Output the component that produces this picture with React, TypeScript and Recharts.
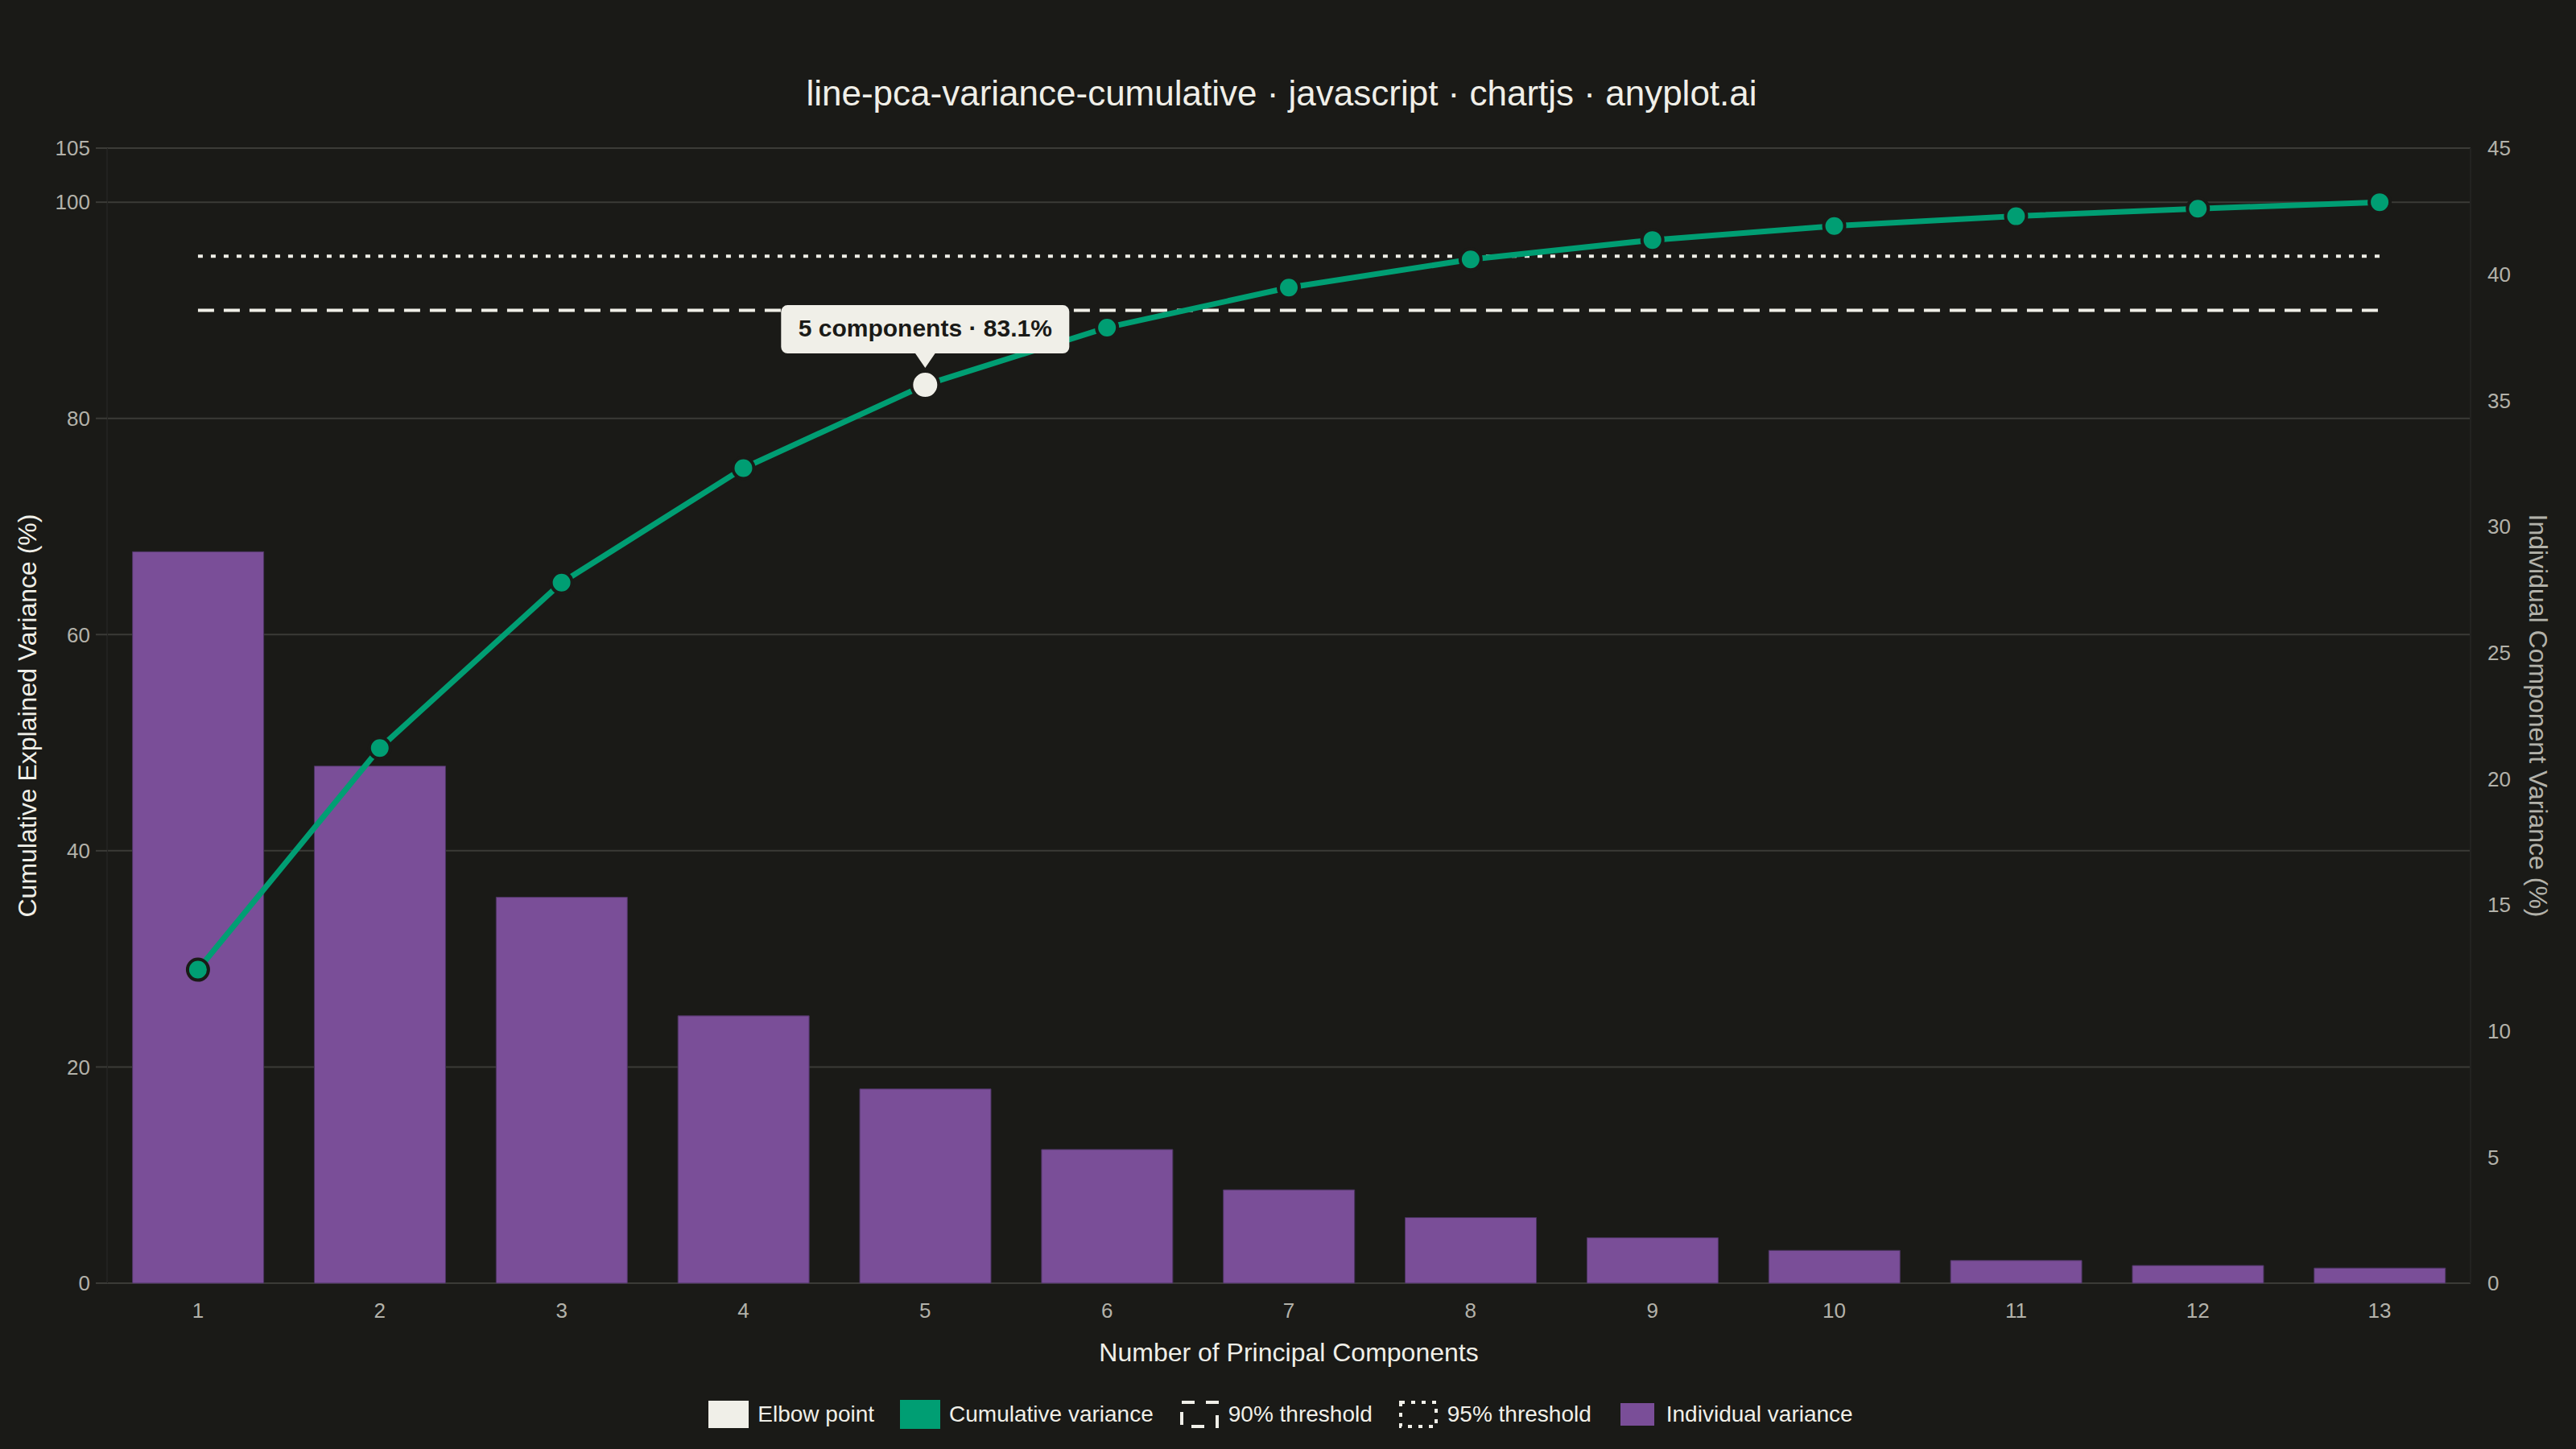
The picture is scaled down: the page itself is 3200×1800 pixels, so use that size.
import React from 'react';
import { ComposedChart, Bar, Line, XAxis, YAxis, CartesianGrid, Legend } from 'recharts';

const COMPONENTS = ['1', '2', '3', '4', '5', '6', '7', '8', '9', '10', '11', '12', '13'];
const INDIVIDUAL = [29.0, 20.5, 15.3, 10.6, 7.7, 5.3, 3.7, 2.6, 1.8, 1.3, 0.9, 0.7, 0.6];
const CUMULATIVE = [29.0, 49.5, 64.8, 75.4, 83.1, 88.4, 92.1, 94.7, 96.5, 97.8, 98.7, 99.4, 100.0];
const THRESHOLD_90 = 90;
const THRESHOLD_95 = 95;
const ELBOW_COMPONENT = '5';
const LEFT_TICKS = [0, 20, 40, 60, 80, 100, 105];
const RIGHT_TICKS = [0, 5, 10, 15, 20, 25, 30, 35, 40, 45];

const BG = '#1a1a17';
const INK = '#f0efe8';
const MUTED = '#b3b2aa';
const GRID = '#3b3b37';
const GREEN = '#009e73';
const PURPLE = '#7a4e98';
const FONT = '"Liberation Sans", Arial, Helvetica, sans-serif';

if (typeof document !== 'undefined') {
  document.body.style.margin = '0';
  document.body.style.background = BG;
}

const data = COMPONENTS.map((pc, i) => ({
  pc,
  individual: INDIVIDUAL[i],
  cumulative: CUMULATIVE[i],
  thr90: THRESHOLD_90,
  thr95: THRESHOLD_95,
  elbow: pc === ELBOW_COMPONENT ? CUMULATIVE[i] : null,
}));

const ElbowDot = (props: any) => {
  const { cx, cy, payload, index } = props;
  if (payload == null || payload.elbow == null || cx == null || cy == null) {
    return <g key={`e-${index}`} />;
  }
  const label = `${payload.pc} components · ${payload.elbow.toFixed(1)}%`;
  const w = 358;
  const h = 60;
  const boxBottom = cy - 39;
  return (
    <g key={`e-${index}`}>
      <circle cx={cx} cy={cy} r={17} fill={INK} stroke={BG} strokeWidth={4} />
      <rect x={cx - w / 2} y={boxBottom - h} width={w} height={h} rx={8} ry={8} fill={INK} />
      <path d={`M${cx - 13},${boxBottom - 1} L${cx + 13},${boxBottom - 1} L${cx},${cy - 21} Z`} fill={INK} />
      <text
        x={cx}
        y={boxBottom - h / 2 - 2}
        textAnchor="middle"
        dominantBaseline="central"
        fontSize={30}
        fontWeight="bold"
        fontFamily={FONT}
        fill={BG}
      >
        {label}
      </text>
    </g>
  );
};

const LegendItem = ({ swatch, text }: { swatch: React.ReactNode; text: string }) => (
  <div style={{ display: 'flex', alignItems: 'center' }}>
    <svg width={50} height={36} style={{ display: 'block' }}>
      {swatch}
    </svg>
    <span style={{ marginLeft: 11 }}>{text}</span>
  </div>
);

const LegendContent = () => (
  <div
    style={{
      position: 'relative',
      left: -9,
      display: 'flex',
      justifyContent: 'center',
      alignItems: 'center',
      height: 50,
      gap: 32,
      fontFamily: FONT,
      fontSize: 28,
      color: INK,
    }}
  >
    <LegendItem swatch={<rect x={0} y={1} width={50} height={34} fill={INK} />} text="Elbow point" />
    <LegendItem swatch={<rect x={0} y={0} width={50} height={36} fill={GREEN} />} text="Cumulative variance" />
    <LegendItem
      swatch={<rect x={3} y={3} width={44} height={30} fill="none" stroke={INK} strokeWidth={4} strokeDasharray="16 14" />}
      text="90% threshold"
    />
    <LegendItem
      swatch={<rect x={3} y={3} width={44} height={30} fill="none" stroke={INK} strokeWidth={4} strokeDasharray="5 8" />}
      text="95% threshold"
    />
    <LegendItem swatch={<rect x={4} y={4} width={42} height={28} fill={PURPLE} />} text="Individual variance" />
  </div>
);

export default function App() {
  return (
    <div style={{ position: 'relative', width: 3200, height: 1800, background: BG, fontFamily: FONT }}>
      <div
        style={{
          position: 'absolute',
          top: 91,
          left: -8,
          width: 3200,
          textAlign: 'center',
          fontSize: 44,
          lineHeight: '50px',
          color: INK,
          fontFamily: FONT,
        }}
      >
        line-pca-variance-cumulative · javascript · chartjs · anyplot.ai
      </div>
      <ComposedChart
        width={3200}
        height={1800}
        data={data}
        margin={{ top: 184, right: 0, left: 0, bottom: 18 }}
        barCategoryGap="14%"
      >
        <CartesianGrid yAxisId="left" vertical={false} stroke={GRID} strokeWidth={2} />
        <XAxis
          dataKey="pc"
          height={138}
          tickLine={false}
          axisLine={false}
          tickSize={10}
          tickMargin={15}
          tick={{ fill: MUTED, fontSize: 26, fontFamily: FONT }}
          label={{
            value: 'Number of Principal Components',
            position: 'center',
            dy: 17,
            fill: INK,
            fontSize: 32,
            fontFamily: FONT,
          }}
        />
        <YAxis
          yAxisId="left"
          orientation="left"
          width={133}
          domain={[0, 105]}
          ticks={LEFT_TICKS}
          interval={0}
          tickSize={14}
          tickMargin={7}
          tickLine={{ stroke: GRID, strokeWidth: 2 }}
          axisLine={{ stroke: '#222220', strokeWidth: 2 }}
          tick={{ fill: MUTED, fontSize: 26, fontFamily: FONT }}
          label={{
            value: 'Cumulative Explained Variance (%)',
            angle: -90,
            position: 'center',
            dx: -33,
            fill: INK,
            fontSize: 32,
            fontFamily: FONT,
          }}
        />
        <YAxis
          yAxisId="right"
          orientation="right"
          width={131}
          domain={[0, 45]}
          ticks={RIGHT_TICKS}
          interval={0}
          tickSize={14}
          tickMargin={7}
          tickLine={false}
          axisLine={{ stroke: '#222220', strokeWidth: 2 }}
          tick={{ fill: MUTED, fontSize: 26, fontFamily: FONT }}
          label={{
            value: 'Individual Component Variance (%)',
            angle: 90,
            position: 'center',
            dx: 19,
            fill: MUTED,
            fontSize: 32,
            fontFamily: FONT,
          }}
        />
        <Legend verticalAlign="bottom" align="center" height={50} content={<LegendContent />} />
        <Bar
          yAxisId="right"
          dataKey="individual"
          fill={PURPLE}
          stroke="#4b3460"
          strokeWidth={1}
          isAnimationActive={false}
        />
        <Line
          yAxisId="left"
          dataKey="thr90"
          stroke={INK}
          strokeWidth={4}
          strokeDasharray="20 12"
          dot={false}
          activeDot={false}
          isAnimationActive={false}
        />
        <Line
          yAxisId="left"
          dataKey="thr95"
          stroke={INK}
          strokeWidth={4}
          strokeDasharray="6 10"
          dot={false}
          activeDot={false}
          isAnimationActive={false}
        />
        <Line
          yAxisId="left"
          dataKey="cumulative"
          stroke={GREEN}
          strokeWidth={7}
          dot={{ r: 13, fill: GREEN, stroke: BG, strokeWidth: 4 }}
          activeDot={false}
          isAnimationActive={false}
        />
        <Line
          yAxisId="left"
          dataKey="elbow"
          stroke="none"
          dot={ElbowDot}
          activeDot={false}
          legendType="none"
          isAnimationActive={false}
        />
      </ComposedChart>
    </div>
  );
}
